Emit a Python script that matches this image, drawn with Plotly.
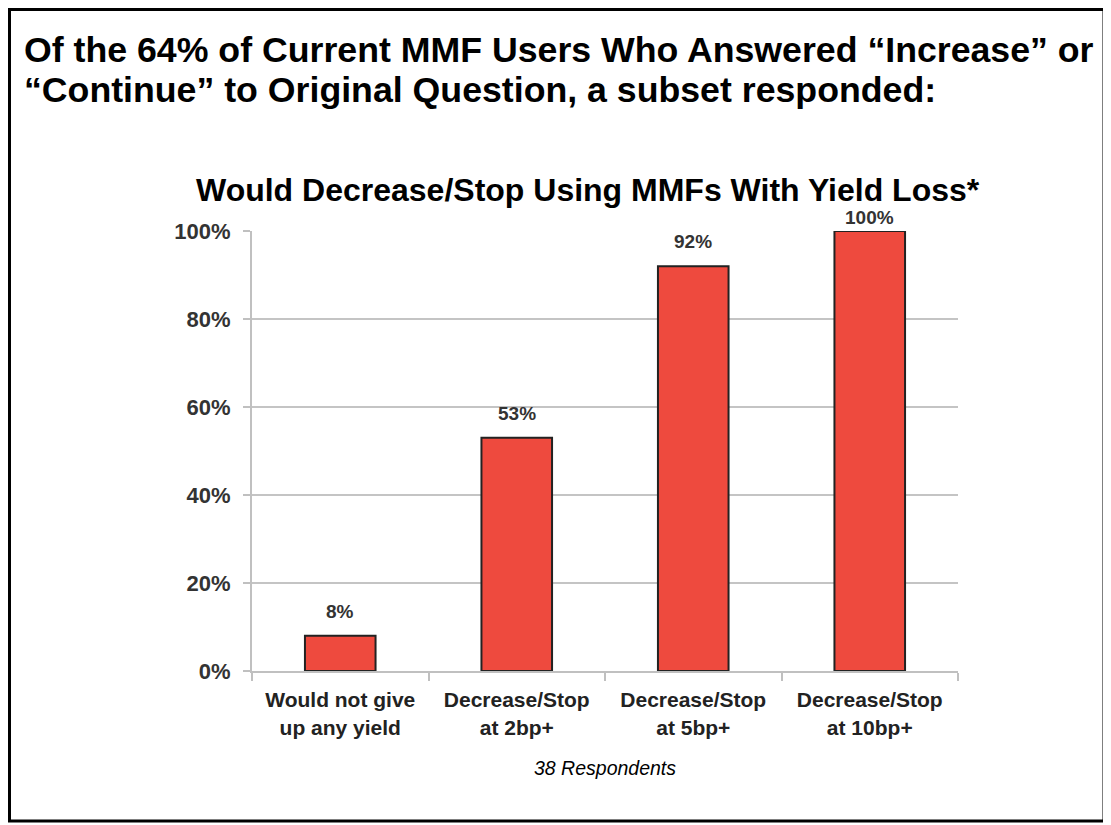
import plotly.graph_objects as go

categories = ["Would not give<br>up any yield", "Decrease/Stop<br>at 2bp+",
              "Decrease/Stop<br>at 5bp+", "Decrease/Stop<br>at 10bp+"]
shares = [8, 53, 92, 100]
y_ticks = [0, 20, 40, 60, 80, 100]
y_tick_labels = ["0%", "20%", "40%", "60%", "80%", "100%"]

title_lines = ["Of the 64% of Current MMF Users Who Answered \u201cIncrease\u201d or",
               "\u201cContinue\u201d to Original Question, a subset responded:"]
chart_title = "Would Decrease/Stop Using MMFs With Yield Loss*"
footnote = "38 Respondents"

# the page puts the figure 8px in from the window corner, so size it to fit
OFF = 8
W, H = 1111 - OFF, 825 - OFF
L, R, T, B = 252 - OFF, 153, 231 - OFF, 154
FONT = "Arial, Liberation Sans, sans-serif"


def px_x(p):
    # window pixel -> paper x
    return (p - OFF - L) / (W - L - R)


def px_y(p):
    # window pixel -> paper y
    return (H - B - (p - OFF)) / (H - T - B)


fig = go.Figure(go.Bar(
    x=categories, y=shares,
    marker=dict(color="#EE4A3E", line=dict(color="#222222", width=2)),
    width=0.4,
    hoverinfo="x+y",
))

# value labels above bars (100% sits tight on the top gridline, like the original)
for c, v in zip(categories, shares):
    fig.add_annotation(x=c, y=v, text=f"<b>{v}%</b>", showarrow=False,
                       yanchor="bottom", yshift=1 if v >= 100 else 12,
                       font=dict(family=FONT, size=19, color="#333333"))

for line, cy in zip(title_lines, [50, 90]):
    fig.add_annotation(xref="paper", yref="paper", x=px_x(22), y=px_y(cy),
                       xanchor="left", yanchor="middle",
                       text=f"<b>{line}</b>", showarrow=False,
                       font=dict(family=FONT, size=35.7, color="#000000"))

fig.add_annotation(xref="paper", yref="paper", x=px_x(588), y=px_y(190),
                   xanchor="center", yanchor="middle",
                   text=f"<b>{chart_title}</b>", showarrow=False,
                   font=dict(family=FONT, size=32, color="#000000"))
fig.add_annotation(xref="paper", yref="paper", x=0.5, y=px_y(768),
                   xanchor="center", yanchor="middle",
                   text=f"<i>{footnote}</i>", showarrow=False,
                   font=dict(family=FONT, size=19.5, color="#000000"))

# outer frame
fig.add_shape(type="rect", xref="paper", yref="paper",
              x0=px_x(OFF + 1.5), x1=px_x(1104), y0=px_y(821), y1=px_y(OFF + 1.5),
              line=dict(color="#000000", width=3), layer="above")

fig.update_layout(
    width=W, height=H,
    margin=dict(l=L, r=R, t=T, b=B),
    paper_bgcolor="white", plot_bgcolor="white",
    showlegend=False,
    bargap=0.6,
    font=dict(family=FONT),
)
fig.update_xaxes(
    showline=True, linecolor="#c0c0c0", linewidth=2,
    ticks="outside", tickson="boundaries", ticklen=8, tickcolor="#c0c0c0", tickwidth=2,
    ticklabelstandoff=9,
    tickfont=dict(family=FONT, size=21, color="#222222", weight="bold"),
    showgrid=False,
)
fig.update_yaxes(
    range=[0, 100], tickvals=y_ticks, ticktext=y_tick_labels,
    showline=True, linecolor="#c0c0c0", linewidth=2,
    ticks="outside", ticklen=7, tickcolor="#c0c0c0", tickwidth=2,
    ticklabelstandoff=8,
    showgrid=True, gridcolor="#c4c4c4", gridwidth=2,
    tickfont=dict(family=FONT, size=22, color="#333333", weight="bold"),
    zeroline=False,
)

fig.write_html("out.html")
